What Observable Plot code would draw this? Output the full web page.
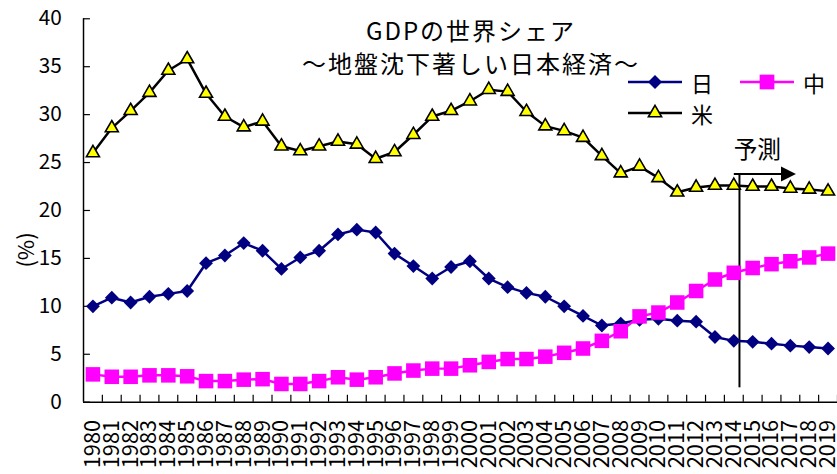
<!DOCTYPE html>
<html>
<head>
<meta charset="utf-8">
<script src="https://cdn.jsdelivr.net/npm/d3@7"></script>
<script src="https://cdn.jsdelivr.net/npm/@observablehq/plot@0.6"></script>
<style>
  html, body { margin: 0; padding: 0; background: #fff; overflow: hidden; }
  #wrap { position: relative; width: 837px; height: 474px; overflow: hidden; }
  #wrap > svg { display: block; }
  #overlay { position: absolute; left: 0; top: 0; pointer-events: none; }
</style>
</head>
<body>
<div id="wrap"></div>
<script>
// GDP share of world total (%), 1980–2019; 2015 onward is a forecast
const years = [1980, 1981, 1982, 1983, 1984, 1985, 1986, 1987, 1988, 1989,
               1990, 1991, 1992, 1993, 1994, 1995, 1996, 1997, 1998, 1999,
               2000, 2001, 2002, 2003, 2004, 2005, 2006, 2007, 2008, 2009,
               2010, 2011, 2012, 2013, 2014, 2015, 2016, 2017, 2018, 2019];
const japan = [10.0, 10.9, 10.4, 11.0, 11.3, 11.6, 14.5, 15.3, 16.6, 15.8,
               13.9, 15.1, 15.8, 17.5, 18.0, 17.7, 15.5, 14.2, 12.9, 14.1,
               14.7, 12.9, 12.0, 11.4, 11.0, 10.0, 9.0, 8.0, 8.2, 8.6,
               8.7, 8.5, 8.4, 6.8, 6.4, 6.3, 6.1, 5.9, 5.75, 5.6];
const china = [2.9, 2.65, 2.65, 2.8, 2.8, 2.7, 2.2, 2.2, 2.35, 2.4,
               1.9, 1.9, 2.2, 2.6, 2.35, 2.6, 3.0, 3.3, 3.5, 3.5,
               3.85, 4.2, 4.5, 4.5, 4.75, 5.15, 5.6, 6.4, 7.4, 8.95,
               9.35, 10.4, 11.6, 12.8, 13.5, 14.0, 14.4, 14.7, 15.1, 15.5];
const usa   = [26.0, 28.6, 30.4, 32.3, 34.6, 35.8, 32.2, 29.8, 28.7, 29.3,
               26.7, 26.2, 26.7, 27.2, 26.9, 25.4, 26.1, 27.9, 29.8, 30.4,
               31.4, 32.6, 32.4, 30.3, 28.8, 28.3, 27.6, 25.7, 23.9, 24.6,
               23.4, 21.9, 22.4, 22.6, 22.6, 22.5, 22.5, 22.3, 22.2, 22.0];
const yTicks = [0, 5, 10, 15, 20, 25, 30, 35, 40];
const seriesNames = ["日", "中", "米"];
const titleLines = ["GDPの世界シェア", "～地盤沈下著しい日本経済～"];
const yLabel = "(%)";
const forecastLabel = "予測";

// forecast marker (data coordinates)
const forecastX = 2014.3, forecastTop = 23.8, forecastBottom = 1.5;
const arrowStart = 2014.0, arrowHeadX = 2016.9;
const forecastLabelX = 2015.25, forecastLabelY = 26.3;

const FONT = '"Noto Sans CJK JP", "Noto Sans", sans-serif';
const NAVY = "#000080", MAGENTA = "#ff00ff", YELLOW = "#ffff00";

const rows = years.map((year, i) => ({year, japan: japan[i], china: china[i], usa: usa[i]}));
const boundaries = years.map(y => y + 0.5);

// filled arrowhead pointing right
const arrowHead = {
  draw(ctx, size) {
    const s = Math.sqrt(size);
    ctx.moveTo(s / 2, 0);
    ctx.lineTo(-s / 2, -s / 2);
    ctx.lineTo(-s / 2, s / 2);
    ctx.closePath();
  }
};

const chart = Plot.plot({
  width: 847,
  height: 474,
  marginLeft: 84,
  marginRight: 0,
  marginTop: 18.5,
  marginBottom: 67.5,
  style: {fontFamily: FONT, fontSize: "21px", color: "#000", background: "transparent"},
  x: {type: "linear", domain: [1979.5, 2019.5]},
  y: {domain: [0, 40]},
  marks: [
    Plot.axisY(yTicks, {tickSize: -7, tickPadding: 29, fontSize: 21, label: null, strokeWidth: 1.2}),
    Plot.axisX(boundaries, {tickSize: -7, tickFormat: () => "", label: null, strokeWidth: 1.2}),
    Plot.axisX(years, {tickSize: 0, tickPadding: 0, dy: 18, textAnchor: "end", tickRotate: -90, tickFormat: d => String(d), fontSize: 22, label: null}),
    Plot.ruleX([1979.5], {stroke: "#000", strokeWidth: 1.5}),
    Plot.ruleY([0], {stroke: "#000", strokeWidth: 1.5}),
    // forecast divider and arrow
    Plot.ruleX([forecastX], {y1: forecastBottom, y2: forecastTop, stroke: "#000", strokeWidth: 2}),
    Plot.link([0], {x1: arrowStart, x2: arrowHeadX, y1: forecastTop, y2: forecastTop, stroke: "#000", strokeWidth: 2}),
    Plot.dot([0], {x: arrowHeadX, y: forecastTop, symbol: arrowHead, r: 8.5, fill: "#000", stroke: null}),
    Plot.text([forecastLabel], {x: forecastLabelX, y: forecastLabelY, fontSize: 24, fill: "#000"}),
    // Japan
    Plot.line(rows, {x: "year", y: "japan", stroke: NAVY, strokeWidth: 2.5}),
    Plot.dot(rows, {x: "year", y: "japan", symbol: "diamond2", r: 6.3, fill: NAVY, stroke: null}),
    // China
    Plot.line(rows, {x: "year", y: "china", stroke: MAGENTA, strokeWidth: 2.5}),
    Plot.dot(rows, {x: "year", y: "china", symbol: "square", r: 8.3, fill: MAGENTA, stroke: null}),
    // United States
    Plot.line(rows, {x: "year", y: "usa", stroke: "#000", strokeWidth: 2.5}),
    Plot.dot(rows, {x: "year", y: "usa", symbol: "triangle", r: 4.9, fill: YELLOW, stroke: "#000", strokeWidth: 1.6})
  ]
});

const wrap = document.getElementById("wrap");
wrap.appendChild(chart);

// title, axis label and legend drawn on top of the plot area
const ns = "http://www.w3.org/2000/svg";
const overlay = d3.select(wrap).append("svg")
  .attr("id", "overlay")
  .attr("xmlns", ns)
  .attr("width", 837)
  .attr("height", 474)
  .style("font-family", FONT);

overlay.selectAll("text.title")
  .data(titleLines)
  .join("text")
  .attr("class", "title")
  .attr("x", 471)
  .attr("y", (d, i) => 29 + i * 33)
  .attr("text-anchor", "middle")
  .attr("dominant-baseline", "central")
  .attr("font-size", 24)
  .attr("letter-spacing", 2)
  .text(d => d);

overlay.append("text")
  .attr("transform", "translate(24,250) rotate(-90)")
  .attr("text-anchor", "middle")
  .attr("dominant-baseline", "central")
  .attr("font-size", 22)
  .text(yLabel);

const legendItems = [
  {name: seriesNames[0], x: 628, y: 82, stroke: NAVY, fill: NAVY, sym: d3.symbolDiamond2, r: 6.3, symStroke: "none"},
  {name: seriesNames[1], x: 740, y: 82, stroke: MAGENTA, fill: MAGENTA, sym: d3.symbolSquare, r: 8.3, symStroke: "none"},
  {name: seriesNames[2], x: 628, y: 113, stroke: "#000", fill: YELLOW, sym: d3.symbolTriangle, r: 4.9, symStroke: "#000"}
];
const lg = overlay.selectAll("g.legend").data(legendItems).join("g")
  .attr("class", "legend")
  .attr("transform", d => `translate(${d.x},${d.y})`);
lg.append("line").attr("x1", 0).attr("x2", 54).attr("stroke", d => d.stroke).attr("stroke-width", 2.5);
lg.append("path")
  .attr("transform", "translate(27,0)")
  .attr("d", d => d3.symbol(d.sym, Math.PI * d.r * d.r)())
  .attr("fill", d => d.fill)
  .attr("stroke", d => d.symStroke)
  .attr("stroke-width", 1.6);
lg.append("text")
  .attr("x", 63)
  .attr("dominant-baseline", "central")
  .attr("font-size", 22)
  .text(d => d.name);
</script>
</body>
</html>
